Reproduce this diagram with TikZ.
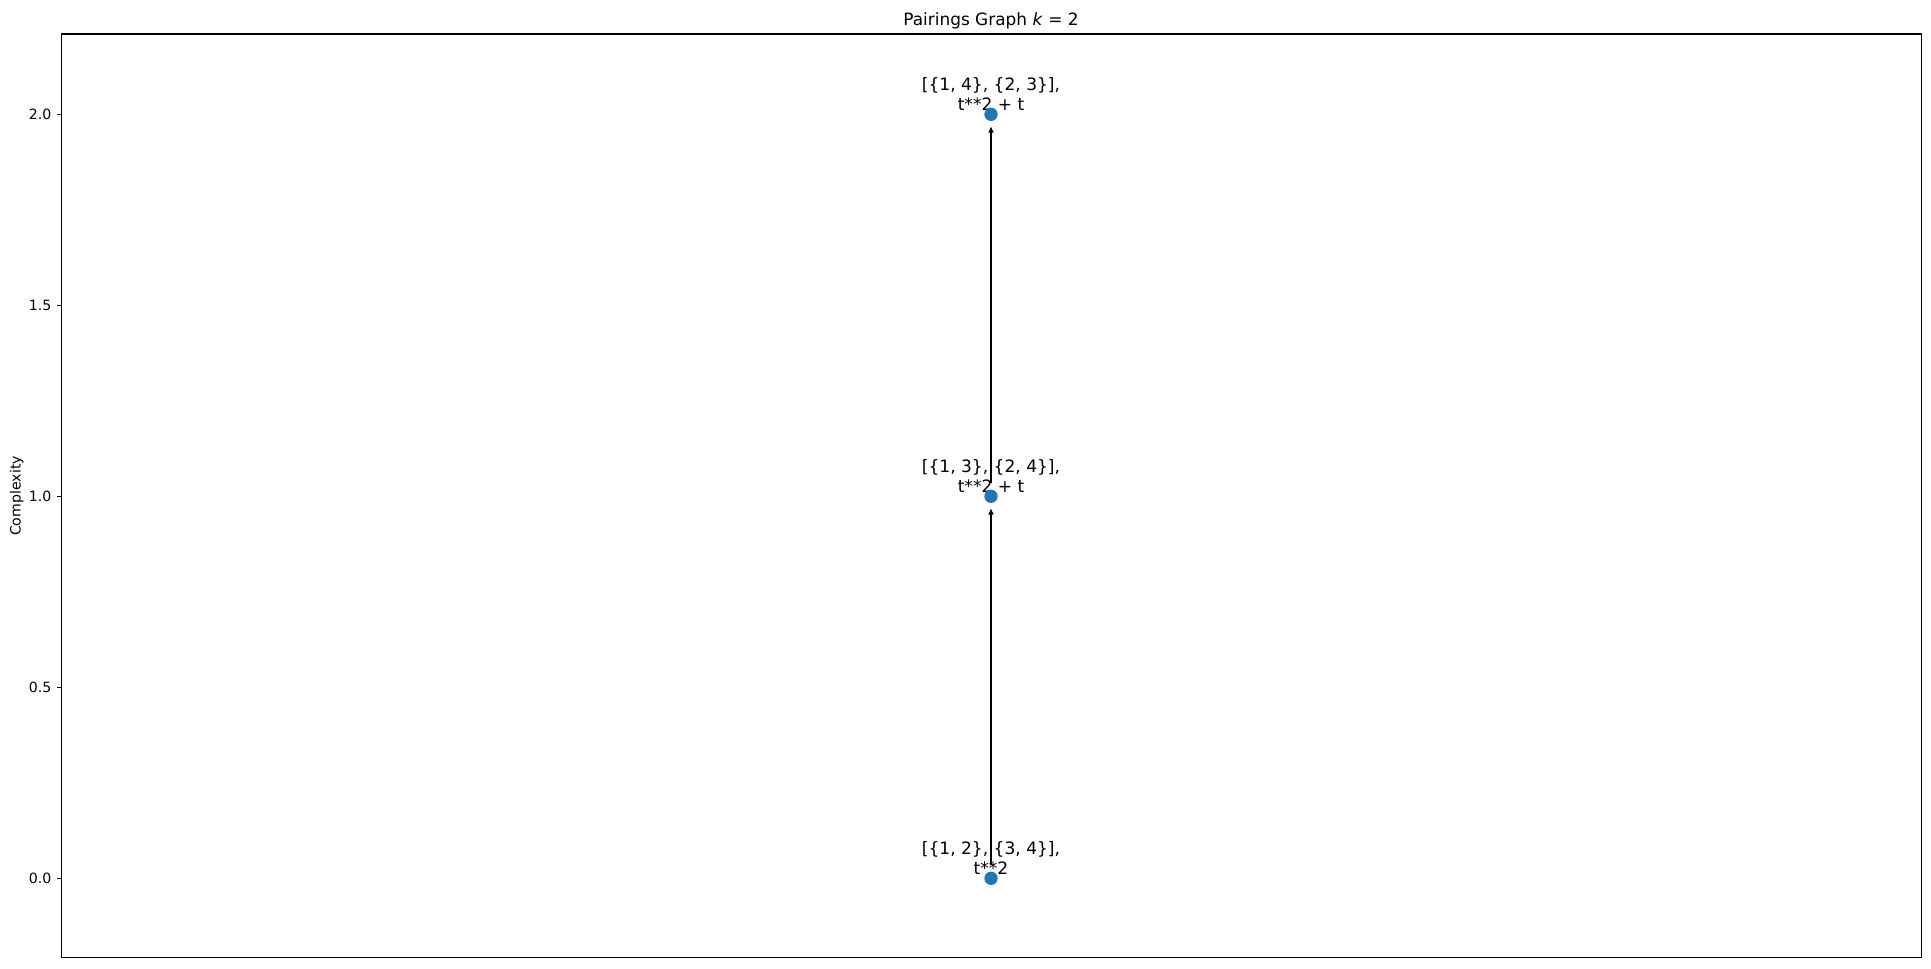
\documentclass[tikz,border=0pt]{standalone}
\usepackage{fontspec}
\setmainfont{DejaVu Sans}
\usetikzlibrary{arrows.meta}
\definecolor{tabblue}{HTML}{1F77B4}
\begin{document}
\begin{tikzpicture}[x=0.75pt,y=-0.75pt,
  dot/.style={circle,fill=tabblue,inner sep=0pt,minimum size=10pt},
  lbl/.style={align=center,anchor=base,font=\fontsize{12.8}{14.5}\selectfont,inner sep=0pt},
  arr/.style={-{Triangle[length=4.5pt,width=3.6pt]},line width=0.9pt,shorten >=4pt,shorten <=4.5pt},
  ticklbl/.style={anchor=base east,font=\fontsize{10.6}{12}\selectfont,inner sep=0pt},
  tickmark/.style={line width=0.8pt},
  frame/.style={line width=0.85pt}]
\useasboundingbox (0,0) rectangle (1931,968);
\fill[white] (0,0) rectangle (1931,968);
% axes frame
\draw[frame] (61.5,34) rectangle (1921.3,957.5);
% ticks
\foreach \v/\yy in {2.0/114.3,1.5/305.3,1.0/496.3,0.5/687.3,0.0/878.3}{
  \draw[tickmark] (57,\yy) -- (61.5,\yy);
  \node[ticklbl] at (51.7,\yy+5.5) {\v};
}
% title and axis label
\node[anchor=base,font=\fontsize{12.7}{15}\selectfont,inner sep=0pt] (title) at (991,25.7) {Pairings Graph \textit{k} = 2};
\node[rotate=90,anchor=base,font=\fontsize{10.6}{12}\selectfont,inner sep=0pt] (ylab) at (20.7,496) {Complexity};
% labels (anchor at baseline of last line)
\node[lbl] (l0) at (991,874.3) {[\{1, 2\}, \{3, 4\}],\\t**2};
\node[lbl] (l1) at (991,492.3) {[\{1, 3\}, \{2, 4\}],\\t**2 + t};
\node[lbl] (l2) at (991,110.3) {[\{1, 4\}, \{2, 3\}],\\t**2 + t};
% nodes
\node[dot] (n0) at (991,878.3) {};
\node[dot] (n1) at (991,496.3) {};
\node[dot] (n2) at (991,114.3) {};
% edges
\draw[arr] (n0) -- (n1);
\draw[arr] (n1) -- (n2);
\end{tikzpicture}
\end{document}
